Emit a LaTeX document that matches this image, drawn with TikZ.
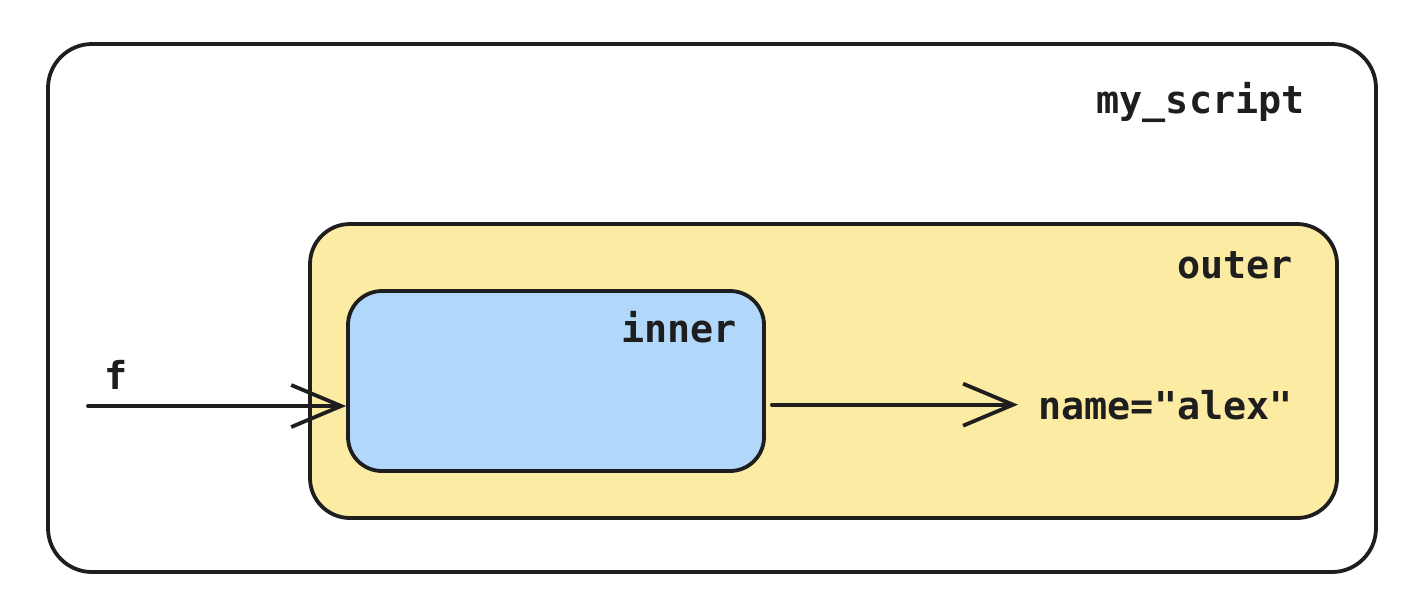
\documentclass[tikz,border=0pt]{standalone}
\usepackage{fontspec}
\setmonofont{DejaVu Sans Mono}
\usepackage{xcolor}
\usetikzlibrary{arrows.meta}

\definecolor{inkcol}{RGB}{30,30,30}
\definecolor{outerfill}{RGB}{252,235,163}
\definecolor{innerfill}{RGB}{177,216,250}

\tikzset{
  box/.style={draw=inkcol, line width=1.9pt, inner sep=0pt},
  lbl/.style={inner sep=0pt, text=inkcol, font=\ttfamily\bfseries\fontsize{19.2}{23}\selectfont},
  flow/.style={draw=inkcol, line width=1.9pt, line cap=round,
    -{Straight Barb[length=25pt, width=21pt, line width=1.9pt]}}
}

\begin{document}
\begin{tikzpicture}[x=0.5pt,y=0.5pt,yscale=-1,xscale=1]
\useasboundingbox (0,0) rectangle (1428,602);

%Shape: Rounded Rectangle [my_script]
\node [box, fill=white, rounded corners=22pt, minimum width=664pt, minimum height=264pt] (script) at (712,308) {};
%Shape: Rounded Rectangle [outer]
\node [box, fill=outerfill, rounded corners=20pt, minimum width=513.5pt, minimum height=147pt] (outer) at (823.5,371) {};
%Shape: Rounded Rectangle [inner]
\node [box, fill=innerfill, rounded corners=17pt, minimum width=208pt, minimum height=90pt] (inner) at (556,381) {};

% Text Node
\node [lbl, anchor=base east] (scriptlbl) at (1305,113) {my\_script};
% Text Node
\node [lbl, anchor=base east] (outerlbl) at (1293,278) {outer};
% Text Node
\node [lbl, anchor=base east] (innerlbl) at (737,342) {inner};
% Text Node
\node [lbl, anchor=base west] (flbl) at (104,389) {f};
% Text Node
\node [lbl, anchor=base west] (alex) at (1038,419) {name="alex"};

\coordinate (fstart) at (88,406);

%Straight Lines
\draw [flow] (fstart) -- (fstart -| inner.west);
\draw [flow] (inner.east |- alex.west) ++(6,0) coordinate (innerout) -- ([xshift=-10pt]alex.west);

\end{tikzpicture}
\end{document}
